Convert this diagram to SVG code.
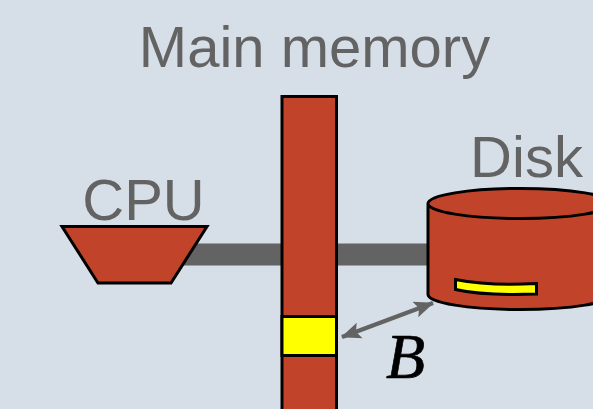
<svg xmlns="http://www.w3.org/2000/svg" width="593" height="409" viewBox="0 0 593 409">
<style>
.lbl{font-family:"Liberation Sans",Arial,sans-serif;fill:#636363;font-size:58px;text-anchor:middle}
.sh{fill:#c1442a;stroke:#000;stroke-width:3}
.y{fill:#ffff00;stroke:#000;stroke-width:3}
.bus{fill:#636363}
</style>
<defs>
<marker id="ah" viewBox="0 0 10 10" refX="9.500" refY="5" markerWidth="4.400" markerHeight="4.400" orient="auto-start-reverse"><path d="M0 0.800L10 5L0 9.200L2 5Z" fill="#636363"/></marker>
</defs>
<rect width="593" height="409" fill="#d6dfe8"/>
<g id="connectors">
<rect class="bus" x="180" y="243.500" width="105" height="22"/>
<rect class="bus" x="335" y="243.500" width="95" height="22"/>
<line x1="342" y1="337" x2="433" y2="303" stroke="#636363" stroke-width="4.500" marker-start="url(#ah)" marker-end="url(#ah)"/>
</g>
<g id="cpu">
<path class="sh" d="M62 226.500H207L171 283H98Z"/>
<text class="lbl" x="143.500" y="220">CPU</text>
</g>
<g id="memory">
<rect class="sh" x="282" y="96.500" width="54.500" height="320"/>
<rect class="y" x="282" y="316.500" width="54.500" height="39"/>
<text class="lbl" x="314.500" y="67">Main memory</text>
</g>
<g id="disk">
<path class="sh" d="M428 203.500V294.500A92 15 0 0 0 612 294.500V203.500A92 15 0 0 0 428 203.500A92 15 0 0 0 612 203.500"/>
<path class="y" d="M455.500 279.500C480 284.500 510 285 536.500 283.500V294C510 295 480 295 455.500 289.500Z"/>
<text class="lbl" x="526.500" y="177">Disk</text>
</g>
<g id="label-b">
<text x="405.500" y="378" font-family="'Liberation Serif','Times New Roman',serif" font-style="italic" font-size="64" text-anchor="middle" fill="#000" stroke="#000" stroke-width="0.700">B</text>
</g>
</svg>
